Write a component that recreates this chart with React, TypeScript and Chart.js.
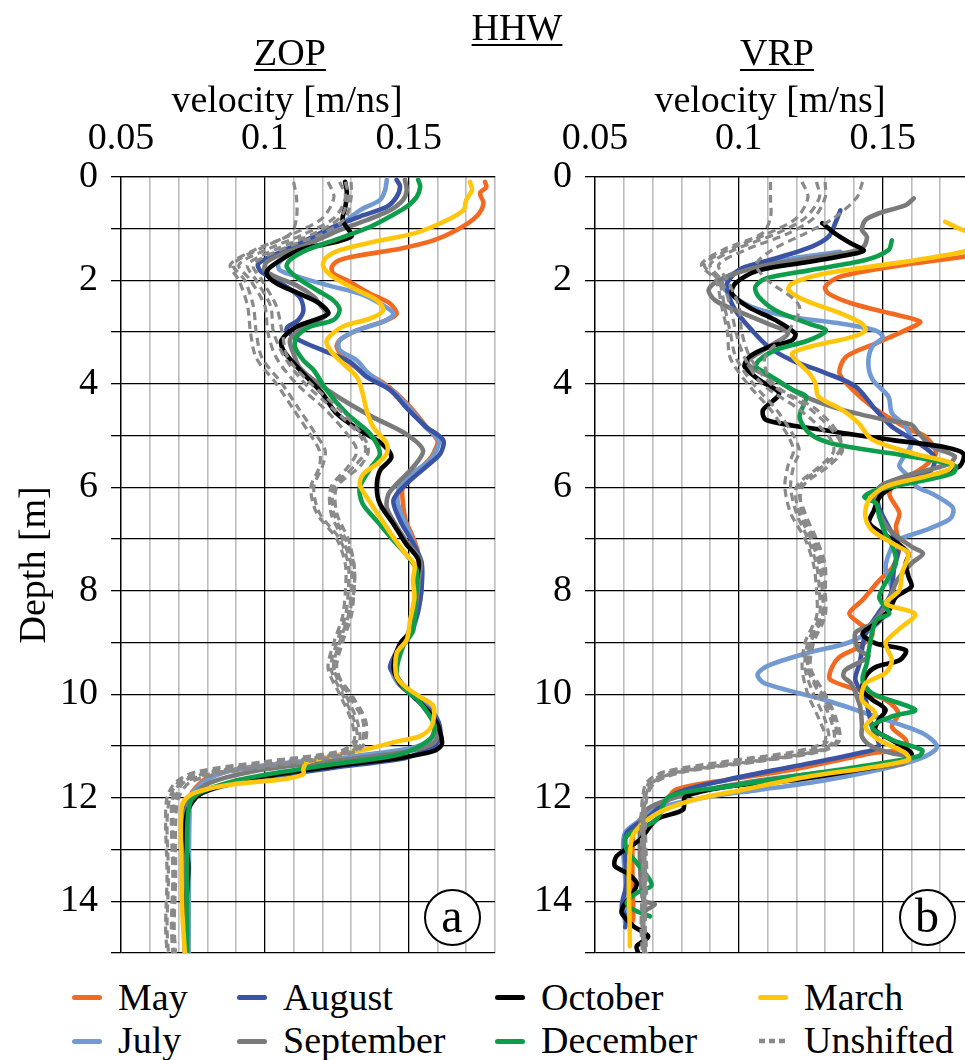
import React, { useEffect, useRef } from "react";
import { Chart, registerables } from "chart.js";

Chart.register(...registerables);

const FONT = "Liberation Serif";
Chart.defaults.font.family = FONT;
Chart.defaults.font.size = 38;
Chart.defaults.color = "#000000";

// ---- axes ----
const velocityMin = 0.05;
const velocityMax = 0.18;
const velocityStep = 0.01;
const velocityLabelled = [5, 10, 15]; // hundredths that carry a label
const depthMin = 0;
const depthMax = 15;

// ---- series names / colours ----
const seriesNames = ["May", "July", "August", "September", "October", "December", "March"];
const seriesColors = ["#F26A22", "#7199D2", "#3A53A4", "#7A7A7A", "#000000", "#0E9E4B", "#FFC60B"];
const unshiftedColor = "#8A8A8A";

type Pt = [number, number]; // [depth m, velocity m/ns]

// ================= ZOP (panel a) =================
const zopMay: Pt[] = [[0.1,0.1765],[0.2,0.177],[0.32,0.1748],[0.52,0.176],[0.77,0.1735],[1.03,0.1667],[1.23,0.1586],[1.39,0.147],[1.52,0.133],[1.61,0.126],[1.74,0.1233],[1.87,0.1238],[2.0,0.1285],[2.26,0.1366],[2.45,0.1435],[2.65,0.1458],[2.77,0.1424],[2.97,0.132],[3.16,0.126],[3.29,0.125],[3.48,0.1273],[3.74,0.133],[3.94,0.14],[4.19,0.1458],[4.52,0.1516],[4.84,0.1562],[5.1,0.16],[5.3,0.159],[5.45,0.1574],[5.74,0.152],[6.0,0.148],[6.3,0.148],[6.65,0.149],[6.9,0.151],[7.2,0.153],[7.41,0.1534],[7.8,0.1545],[8.18,0.154],[8.5,0.152],[8.83,0.15],[9.08,0.147],[9.47,0.1444],[9.79,0.1464],[10.05,0.152],[10.3,0.158],[10.6,0.159],[10.85,0.158],[11.0,0.155],[11.12,0.145],[11.25,0.125],[11.38,0.1],[11.5,0.086],[11.65,0.079],[11.97,0.074],[12.4,0.0735],[13.5,0.0735],[15,0.0733]];
const zopJuly: Pt[] = [[0.06,0.1424],[0.26,0.1418],[0.45,0.14],[0.65,0.133],[0.94,0.126],[1.16,0.118],[1.42,0.11],[1.68,0.1047],[1.81,0.1053],[1.94,0.112],[2.1,0.122],[2.26,0.133],[2.45,0.14],[2.65,0.1447],[2.8,0.1412],[2.97,0.132],[3.16,0.126],[3.35,0.126],[3.55,0.132],[3.8,0.136],[4.19,0.1455],[4.52,0.151],[4.84,0.1558],[5.1,0.1605],[5.3,0.1595],[5.5,0.157],[5.74,0.151],[6.0,0.1468],[6.3,0.1462],[6.65,0.1485],[6.9,0.1505],[7.2,0.1525],[7.45,0.1545],[7.8,0.1545],[8.2,0.1538],[8.5,0.1515],[8.85,0.1495],[9.1,0.1465],[9.47,0.1438],[9.8,0.1465],[10.05,0.1525],[10.35,0.1585],[10.65,0.16],[10.9,0.157],[11.05,0.15],[11.2,0.13],[11.35,0.104],[11.48,0.088],[11.65,0.08],[11.95,0.0745],[12.4,0.0738],[13.5,0.0736],[15,0.0735]];
const zopAugust: Pt[] = [[0.06,0.1458],[0.19,0.147],[0.39,0.1458],[0.58,0.1424],[0.77,0.133],[0.97,0.1238],[1.29,0.112],[1.52,0.103],[1.68,0.0977],[1.81,0.0983],[1.94,0.1018],[2.13,0.1076],[2.32,0.112],[2.58,0.1134],[2.77,0.1116],[2.9,0.108],[2.97,0.1076],[3.16,0.112],[3.35,0.12],[3.58,0.1296],[3.87,0.1354],[4.12,0.1435],[4.51,0.15],[4.83,0.156],[5.09,0.162],[5.35,0.161],[5.54,0.1574],[5.93,0.1493],[6.25,0.1447],[6.64,0.147],[7.09,0.1516],[7.47,0.1545],[8.18,0.154],[8.7,0.1516],[9.02,0.1476],[9.47,0.1435],[9.66,0.1458],[10.05,0.1516],[10.4,0.159],[10.7,0.161],[10.97,0.1595],[11.1,0.155],[11.23,0.149],[11.42,0.124],[11.61,0.1006],[11.77,0.086],[11.93,0.0775],[12.2,0.0725],[13.0,0.0722],[15,0.0722]];
const zopSeptember: Pt[] = [[0.06,0.1487],[0.26,0.1493],[0.45,0.148],[0.65,0.1435],[0.84,0.1354],[1.03,0.126],[1.29,0.1157],[1.48,0.1064],[1.65,0.1006],[1.81,0.1],[1.94,0.104],[2.1,0.111],[2.32,0.117],[2.5,0.1195],[2.65,0.1215],[2.77,0.119],[2.97,0.112],[3.16,0.1087],[3.42,0.11],[3.68,0.112],[3.93,0.117],[4.32,0.1273],[4.65,0.1377],[4.97,0.149],[5.29,0.155],[5.61,0.1516],[5.94,0.1458],[6.13,0.143],[6.39,0.1424],[6.65,0.1447],[7.03,0.149],[7.41,0.154],[7.8,0.1535],[8.3,0.1525],[8.8,0.1505],[9.05,0.147],[9.47,0.1445],[9.8,0.1468],[10.05,0.1522],[10.4,0.158],[10.7,0.1605],[10.95,0.1585],[11.1,0.15],[11.25,0.13],[11.45,0.1],[11.71,0.081],[12.03,0.074],[12.5,0.0722],[15,0.0722]];
const zopOctober: Pt[] = [[0.1,0.1279],[0.3,0.1285],[0.58,0.128],[0.84,0.127],[1.16,0.13],[1.42,0.112],[1.74,0.102],[1.87,0.1006],[2.06,0.104],[2.26,0.112],[2.45,0.119],[2.65,0.122],[2.9,0.111],[3.16,0.1058],[3.35,0.1064],[3.6,0.11],[3.87,0.1145],[4.19,0.12],[4.58,0.125],[4.9,0.133],[5.16,0.1407],[5.42,0.144],[5.68,0.14],[6.0,0.1389],[6.32,0.14],[6.71,0.1447],[7.09,0.149],[7.41,0.1534],[7.8,0.1528],[8.31,0.152],[8.76,0.151],[9.02,0.147],[9.47,0.1447],[9.79,0.147],[10.05,0.152],[10.48,0.159],[10.74,0.161],[10.97,0.1615],[11.1,0.1586],[11.23,0.147],[11.39,0.124],[11.58,0.1006],[11.74,0.0867],[11.93,0.0775],[12.22,0.0734],[12.67,0.0722],[13.32,0.0734],[13.96,0.0728],[15,0.0726]];
const zopDecember: Pt[] = [[0.06,0.1533],[0.19,0.154],[0.39,0.1528],[0.58,0.1493],[0.77,0.1435],[0.97,0.1366],[1.19,0.126],[1.42,0.1145],[1.61,0.1087],[1.74,0.1076],[1.94,0.111],[2.19,0.118],[2.39,0.1238],[2.58,0.126],[2.77,0.1238],[2.9,0.1157],[3.1,0.111],[3.29,0.1105],[3.55,0.1134],[3.74,0.117],[4.13,0.1215],[4.58,0.1285],[4.97,0.1366],[5.35,0.14],[5.61,0.137],[6.0,0.133],[6.32,0.134],[6.65,0.1389],[7.03,0.1447],[7.29,0.149],[7.6,0.1528],[8.12,0.1525],[8.76,0.1516],[9.08,0.148],[9.6,0.1458],[9.92,0.149],[10.1,0.153],[10.6,0.159],[10.87,0.1574],[11.16,0.147],[11.35,0.124],[11.55,0.1006],[11.68,0.089],[11.9,0.0775],[12.1,0.074],[12.67,0.073],[15,0.073]];
const zopMarch: Pt[] = [[0.1,0.1713],[0.26,0.172],[0.45,0.17],[0.65,0.169],[0.9,0.161],[1.1,0.1516],[1.26,0.1377],[1.42,0.126],[1.58,0.121],[1.74,0.1203],[1.94,0.1238],[2.19,0.132],[2.39,0.139],[2.58,0.1412],[2.74,0.1366],[2.9,0.127],[3.16,0.1215],[3.35,0.1227],[3.55,0.126],[3.87,0.132],[4.19,0.134],[4.52,0.1354],[4.84,0.1377],[5.16,0.1424],[5.35,0.1424],[5.55,0.139],[5.74,0.1343],[5.94,0.133],[6.19,0.1354],[6.58,0.14],[6.97,0.1447],[7.29,0.149],[7.5,0.152],[7.8,0.1515],[8.12,0.152],[8.57,0.1505],[8.95,0.1493],[9.21,0.1458],[9.66,0.1458],[9.86,0.149],[10.05,0.154],[10.23,0.1586],[10.61,0.158],[10.81,0.154],[10.9,0.147],[11.06,0.1354],[11.19,0.1238],[11.32,0.1145],[11.45,0.1134],[11.55,0.1134],[11.64,0.1064],[11.74,0.089],[11.87,0.0775],[12.0,0.0728],[12.22,0.071],[13.32,0.071],[14.28,0.0714],[15,0.0722]];

// unshifted profiles share one depth list
const unshiftedDepths = [0.1,0.4,0.8,1.1,1.4,1.7,2.0,2.5,3.0,3.5,4.0,4.5,5.0,5.3,5.6,6.0,6.5,7.0,7.5,8.0,8.5,9.0,9.5,10.0,10.5,10.9,11.1,11.3,11.5,11.7,12.0,12.5,13.5,14.5,15.0];
const zopUnshifted1 = [0.110,0.111,0.111,0.109,0.097,0.088,0.091,0.094,0.095,0.097,0.104,0.110,0.116,0.119,0.119,0.116,0.118,0.125,0.128,0.128,0.127,0.124,0.122,0.126,0.130,0.131,0.126,0.100,0.076,0.069,0.066,0.0655,0.066,0.0655,0.066];
const zopUnshifted2 = [0.122,0.124,0.120,0.110,0.098,0.089,0.093,0.096,0.097,0.099,0.106,0.112,0.118,0.121,0.120,0.117,0.119,0.126,0.129,0.129,0.128,0.125,0.123,0.127,0.131,0.132,0.128,0.105,0.080,0.070,0.067,0.066,0.0665,0.066,0.0665];
const zopUnshifted3 = [0.126,0.128,0.124,0.114,0.101,0.091,0.095,0.100,0.101,0.104,0.111,0.121,0.129,0.132,0.129,0.123,0.123,0.127,0.130,0.130,0.129,0.126,0.124,0.128,0.132,0.133,0.130,0.108,0.082,0.071,0.068,0.0675,0.068,0.0675,0.068];
const zopUnshifted4 = [0.128,0.129,0.126,0.117,0.104,0.094,0.097,0.102,0.103,0.107,0.114,0.124,0.133,0.135,0.131,0.124,0.124,0.128,0.131,0.131,0.130,0.127,0.125,0.129,0.134,0.134,0.131,0.112,0.085,0.072,0.069,0.068,0.0685,0.068,0.0685];
const zopUnshifted5 = [0.130,0.130,0.128,0.120,0.106,0.096,0.099,0.104,0.106,0.108,0.116,0.126,0.134,0.136,0.133,0.125,0.125,0.129,0.131,0.131,0.129,0.126,0.124,0.130,0.135,0.135,0.132,0.115,0.088,0.074,0.070,0.069,0.069,0.0685,0.069];

// ================= VRP (panel b) =================
const vrpMay: Pt[] = [[1.45,0.19],[1.56,0.1764],[1.74,0.1533],[1.94,0.1347],[2.13,0.13],[2.26,0.1312],[2.45,0.1393],[2.65,0.1533],[2.8,0.163],[2.93,0.1593],[3.22,0.1477],[3.48,0.1373],[3.8,0.135],[4.12,0.1396],[4.45,0.1465],[4.7,0.1535],[4.9,0.16],[5.03,0.165],[5.35,0.1685],[5.67,0.1627],[5.86,0.156],[6.12,0.1523],[6.5,0.1558],[6.76,0.1546],[7.15,0.1558],[7.54,0.1535],[7.8,0.1488],[8.18,0.143],[8.44,0.1384],[8.63,0.1419],[8.83,0.1465],[9.08,0.1419],[9.28,0.135],[9.53,0.132],[9.72,0.1318],[9.92,0.1416],[10.11,0.151],[10.37,0.1555],[10.63,0.1532],[10.88,0.158],[11.05,0.158],[11.14,0.1463],[11.46,0.1185],[11.66,0.0953],[11.85,0.0779],[12.16,0.0737],[12.35,0.0668],[12.68,0.0633],[14.29,0.0633],[14.4,0.063]];
const vrpJuly: Pt[] = [[1.45,0.1353],[1.58,0.1185],[1.74,0.1046],[2.0,0.0941],[2.19,0.0953],[2.52,0.1046],[2.71,0.1185],[2.84,0.1358],[2.97,0.1474],[3.1,0.15],[3.29,0.1463],[3.61,0.145],[3.92,0.1465],[4.25,0.152],[4.57,0.1532],[4.83,0.158],[5.15,0.16],[5.47,0.1567],[5.6,0.1558],[5.79,0.159],[6.0,0.162],[6.12,0.167],[6.37,0.1741],[6.5,0.1745],[6.63,0.173],[6.83,0.1648],[7.02,0.155],[7.15,0.1532],[7.54,0.151],[7.99,0.1532],[8.4,0.152],[8.95,0.1405],[9.2,0.124],[9.45,0.11],[9.62,0.1065],[9.79,0.109],[10.11,0.13],[10.43,0.1475],[10.75,0.1637],[11.01,0.1689],[11.2,0.1648],[11.4,0.1532],[11.66,0.13],[11.85,0.1069],[11.98,0.0895],[12.2,0.072],[12.48,0.0645],[12.68,0.0604],[13.0,0.0598],[13.97,0.061],[14.29,0.0604],[14.4,0.0604]];
const vrpAugust: Pt[] = [[0.65,0.1353],[0.9,0.1335],[1.16,0.1312],[1.35,0.1254],[1.58,0.1127],[1.77,0.101],[2.0,0.0965],[2.19,0.0959],[2.58,0.0988],[2.97,0.1046],[3.29,0.1104],[3.55,0.1185],[3.79,0.13],[4.05,0.1405],[4.5,0.1475],[4.83,0.1532],[5.15,0.1625],[5.41,0.168],[5.66,0.167],[5.79,0.162],[5.92,0.1532],[6.1,0.1486],[6.37,0.1486],[6.76,0.152],[7.15,0.1555],[7.54,0.154],[7.99,0.1532],[8.12,0.1524],[8.5,0.1477],[8.83,0.144],[9.4,0.142],[9.72,0.1405],[10.1,0.144],[10.63,0.1463],[11.01,0.1486],[11.14,0.1416],[11.4,0.1185],[11.66,0.0953],[11.92,0.0779],[12.35,0.069],[12.68,0.061],[13.13,0.0605],[13.65,0.061],[14.1,0.0593],[14.35,0.061],[14.5,0.0605]];
const vrpSeptember: Pt[] = [[0.42,0.1608],[0.55,0.158],[0.71,0.1486],[0.84,0.144],[1.03,0.1428],[1.16,0.1445],[1.35,0.1434],[1.45,0.139],[1.58,0.124],[1.74,0.1069],[2.0,0.093],[2.19,0.0895],[2.39,0.0918],[2.58,0.0988],[2.84,0.11],[3.03,0.117],[3.3,0.11],[3.6,0.103],[3.92,0.1127],[4.25,0.123],[4.5,0.1358],[4.7,0.151],[4.79,0.16],[4.92,0.162],[5.21,0.167],[5.4,0.175],[5.55,0.173],[5.75,0.16],[5.95,0.15],[6.12,0.1474],[6.4,0.148],[6.8,0.152],[7.15,0.16],[7.28,0.164],[7.47,0.16],[7.8,0.155],[8.2,0.152],[8.63,0.1463],[8.82,0.1405],[9.14,0.1416],[9.27,0.145],[9.53,0.137],[9.66,0.1364],[9.79,0.139],[10.2,0.142],[10.6,0.1428],[10.82,0.1428],[11.01,0.1463],[11.14,0.1532],[11.2,0.158],[11.35,0.157],[11.58,0.1188],[11.77,0.0957],[12.03,0.076],[12.29,0.0668],[12.87,0.0656],[13.97,0.0668],[14.06,0.0708],[14.23,0.0668],[15,0.0673]];
const vrpOctober: Pt[] = [[0.9,0.129],[1.1,0.1335],[1.29,0.139],[1.42,0.1434],[1.48,0.141],[1.65,0.124],[1.81,0.107],[2.06,0.0988],[2.26,0.0976],[2.52,0.1034],[2.77,0.1127],[3.03,0.1196],[3.16,0.1185],[3.29,0.1104],[3.48,0.1037],[3.67,0.102],[3.93,0.1072],[4.19,0.114],[4.51,0.1084],[4.7,0.1095],[4.9,0.13],[5.09,0.1535],[5.22,0.171],[5.35,0.178],[5.6,0.1766],[5.8,0.165],[6.0,0.1535],[6.19,0.149],[6.44,0.147],[6.7,0.1454],[7.02,0.1535],[7.28,0.159],[7.47,0.158],[7.73,0.159],[7.92,0.16],[8.12,0.1546],[8.37,0.1523],[8.63,0.1477],[8.83,0.143],[9.02,0.1477],[9.15,0.158],[9.34,0.156],[9.47,0.1477],[9.66,0.144],[9.92,0.143],[10.1,0.1463],[10.3,0.151],[10.5,0.1486],[10.69,0.1475],[10.88,0.153],[11.14,0.16],[11.27,0.158],[11.46,0.142],[11.66,0.119],[11.79,0.0953],[11.98,0.0814],[12.23,0.0806],[12.42,0.0714],[12.81,0.0656],[13.13,0.0575],[13.32,0.0569],[13.45,0.061],[13.65,0.0645],[13.85,0.063],[14.1,0.0598],[14.23,0.0593],[14.48,0.0633],[14.68,0.0685],[14.87,0.0645],[15,0.065]];
const vrpDecember: Pt[] = [[1.23,0.1532],[1.42,0.152],[1.61,0.144],[1.81,0.1243],[1.97,0.1092],[2.13,0.1057],[2.32,0.1069],[2.58,0.1127],[2.84,0.1243],[2.97,0.1303],[3.16,0.1243],[3.35,0.1127],[3.55,0.1069],[3.67,0.106],[3.8,0.1095],[4.12,0.1188],[4.25,0.1234],[4.64,0.1211],[4.96,0.1246],[5.16,0.1327],[5.35,0.1535],[5.48,0.1673],[5.6,0.1754],[5.73,0.1743],[5.86,0.165],[6.06,0.1477],[6.19,0.1436],[6.31,0.1477],[6.57,0.1488],[6.9,0.151],[7.15,0.1535],[7.47,0.1546],[8.12,0.1488],[8.44,0.1523],[8.57,0.1477],[9.08,0.1454],[9.4,0.1445],[9.73,0.143],[9.98,0.1463],[10.3,0.1613],[10.43,0.1532],[10.63,0.1463],[10.88,0.1532],[11.08,0.1637],[11.2,0.1625],[11.4,0.1416],[11.59,0.1185],[11.79,0.0953],[11.98,0.0756],[12.42,0.0714],[12.74,0.061],[13.0,0.061],[13.26,0.0645],[13.68,0.0697],[13.84,0.0645],[14.03,0.061],[14.16,0.0633],[14.29,0.0691]];
const vrpMarch: Pt[] = [[0.87,0.1717],[1.0,0.1764],[1.12,0.182],[1.3,0.186],[1.45,0.178],[1.58,0.165],[1.68,0.1533],[1.87,0.13],[2.06,0.1185],[2.19,0.1173],[2.39,0.1231],[2.65,0.1358],[2.84,0.1428],[2.97,0.144],[3.1,0.1393],[3.29,0.1243],[3.42,0.1185],[3.61,0.121],[3.8,0.1245],[3.99,0.1266],[4.25,0.1277],[4.5,0.1358],[4.76,0.1416],[5.08,0.1463],[5.34,0.16],[5.54,0.1741],[5.66,0.173],[5.79,0.165],[5.99,0.151],[6.25,0.1451],[6.57,0.144],[6.83,0.1463],[7.15,0.1555],[7.28,0.159],[7.66,0.1567],[7.99,0.1558],[8.25,0.1512],[8.45,0.1613],[8.75,0.1555],[9.01,0.151],[9.34,0.1532],[9.59,0.151],[9.79,0.144],[10.11,0.1428],[10.37,0.1475],[10.63,0.144],[10.88,0.1486],[11.14,0.158],[11.27,0.159],[11.4,0.1475],[11.59,0.1243],[11.85,0.101],[12.05,0.0837],[12.35,0.0702],[12.81,0.0627],[14.87,0.0621]];

const vrpUnshifted1 = [0.111,0.111,0.111,0.108,0.095,0.087,0.092,0.094,0.096,0.097,0.103,0.111,0.117,0.119,0.117,0.116,0.118,0.123,0.126,0.127,0.127,0.123,0.122,0.124,0.128,0.130,0.120,0.095,0.074,0.068,0.0665,0.066,0.0665,0.066,0.0665];
const vrpUnshifted2 = [0.122,0.124,0.120,0.110,0.097,0.088,0.093,0.095,0.097,0.099,0.105,0.113,0.119,0.121,0.119,0.118,0.120,0.124,0.127,0.128,0.128,0.124,0.123,0.126,0.130,0.131,0.124,0.100,0.077,0.069,0.067,0.0665,0.067,0.0665,0.067];
const vrpUnshifted3 = [0.127,0.128,0.123,0.113,0.099,0.090,0.094,0.097,0.099,0.102,0.108,0.121,0.131,0.133,0.128,0.120,0.121,0.125,0.128,0.129,0.129,0.125,0.124,0.128,0.132,0.133,0.127,0.104,0.079,0.070,0.0675,0.067,0.0675,0.067,0.0675];
const vrpUnshifted4 = [0.130,0.130,0.126,0.117,0.103,0.093,0.096,0.100,0.101,0.104,0.111,0.125,0.134,0.136,0.131,0.122,0.122,0.126,0.129,0.130,0.130,0.126,0.125,0.130,0.134,0.135,0.129,0.107,0.081,0.071,0.068,0.0675,0.068,0.0675,0.068];
const vrpUnshifted5 = [0.143,0.141,0.133,0.123,0.112,0.106,0.110,0.121,0.117,0.109,0.112,0.127,0.135,0.135,0.129,0.121,0.123,0.127,0.130,0.130,0.129,0.125,0.124,0.129,0.133,0.134,0.128,0.106,0.080,0.070,0.068,0.067,0.0675,0.067,0.0675];

// ---------------------------------------------------------------
function toXY(pts: Pt[]) {
  return pts.map(([d, v]) => ({ x: v, y: d }));
}
function zipDepth(vels: number[]) {
  return unshiftedDepths.map((d, i) => ({ x: vels[i], y: d }));
}

function buildDatasets(colored: Pt[][], unshifted: number[][]) {
  const sets: any[] = [];
  // first dataset is drawn on top in Chart.js
  unshifted.forEach((u) => {
    sets.push({
      data: zipDepth(u),
      borderColor: unshiftedColor,
      borderWidth: 3.2,
      borderDash: [8, 5],
      borderCapStyle: "butt",
      pointRadius: 0,
      tension: 0.3,
      showLine: true,
    });
  });
  for (let i = colored.length - 1; i >= 0; i--) {
    sets.push({
      label: seriesNames[i],
      data: toXY(colored[i]),
      borderColor: seriesColors[i],
      borderWidth: 4.6,
      borderCapStyle: "round",
      borderJoinStyle: "round",
      pointRadius: 0,
      tension: 0.3,
      showLine: true,
    });
  }
  return sets;
}

function hundredths(c: any) {
  return c && c.tick ? Math.round(c.tick.value * 100) : 5;
}

const axisFont = { family: FONT, size: 38, style: "normal" as const, weight: "normal" as const, lineHeight: 1.2 };

function makeConfig(datasets: any[], yAxisWidth: number, rightPad: number, bottomPad: number, showDepth: boolean): any {
  return {
    type: "scatter",
    data: { datasets },
    options: {
      animation: false,
      responsive: false,
      maintainAspectRatio: false,
      layout: { padding: { left: 0, right: rightPad, top: 0, bottom: bottomPad } },
      plugins: { legend: { display: false }, tooltip: { enabled: false }, title: { display: false } },
      scales: {
        x: {
          type: "linear",
          position: "top",
          min: velocityMin,
          max: velocityMax,
          afterFit: (s: any) => {
            s.height = 176.7;
            s.paddingLeft = 0;
            s.paddingRight = 0;
          },
          grid: {
            drawTicks: false,
            color: (c: any) => (hundredths(c) % 5 === 0 ? "#000000" : "#BDBDBD"),
            lineWidth: (c: any) => (hundredths(c) % 5 === 0 ? 1.3 : 1.6),
          },
          border: { display: true, color: "#000000", width: 1.3 },
          ticks: {
            stepSize: velocityStep,
            autoSkip: false,
            maxRotation: 0,
            minRotation: 0,
            padding: 15,
            color: "#000000",
            font: axisFont,
            callback: (v: number) => {
              const k = Math.round(v * 100);
              return velocityLabelled.includes(k) ? String(k / 100) : "";
            },
          },
        },
        y: {
          type: "linear",
          position: "left",
          reverse: true,
          min: depthMin,
          max: depthMax,
          afterFit: (s: any) => {
            s.width = yAxisWidth;
            s.paddingTop = 0;
            s.paddingBottom = 0;
          },
          grid: { color: "#000000", lineWidth: 1.3, drawTicks: true, tickLength: 10 },
          border: { display: true, color: "#000000", width: 1.3 },
          ticks: {
            stepSize: 1,
            autoSkip: false,
            padding: 13,
            color: "#000000",
            font: axisFont,
            callback: (v: number) => (Math.round(v) % 2 === 0 ? String(Math.round(v)) : ""),
          },
          title: {
            display: showDepth,
            text: "Depth [m]",
            color: "#000000",
            font: axisFont,
            padding: { top: 12, bottom: 0 },
          },
        },
      },
    },
  };
}

const textStyle: React.CSSProperties = {
  position: "absolute",
  fontFamily: '"Liberation Serif", "Times New Roman", serif',
  fontSize: 38,
  lineHeight: "38px",
  whiteSpace: "nowrap",
  color: "#000",
};

function Label(props: { x: number; baseline: number; text: string; underline?: boolean; center?: boolean }) {
  return (
    <div
      style={{
        ...textStyle,
        left: props.x,
        top: props.baseline - 32,
        transform: props.center ? "translateX(-50%)" : undefined,
        textDecoration: props.underline ? "underline" : undefined,
        textDecorationThickness: props.underline ? "2px" : undefined,
        textUnderlineOffset: props.underline ? "4px" : undefined,
      }}
    >
      {props.text}
    </div>
  );
}

function PanelTag(props: { cx: number; cy: number; text: string }) {
  const d = 57;
  return (
    <div
      style={{
        position: "absolute",
        left: props.cx - d / 2,
        top: props.cy - d / 2,
        width: d,
        height: d,
        boxSizing: "border-box",
        border: "2px solid #000",
        borderRadius: "50%",
        background: "#fff",
        fontFamily: '"Liberation Serif", serif',
        fontSize: 48,
        lineHeight: `${d - 8}px`,
        textAlign: "center",
      }}
    >
      {props.text}
    </div>
  );
}

// legend layout: column-major, two rows
const legendColumnsX = [72, 237, 495, 758];
const legendRowsY = [997, 1041];
const legendRowsBaseline = [1010, 1053];
const legendNames = ["May", "July", "August", "September", "October", "December", "March", "Unshifted"];

function Legend() {
  return (
    <>
      {legendNames.map((name, i) => {
        const col = Math.floor(i / 2);
        const row = i % 2;
        const x = legendColumnsX[col];
        const yc = legendRowsY[row];
        const isUnshifted = name === "Unshifted";
        const color = isUnshifted ? unshiftedColor : seriesColors[seriesNames.indexOf(name)];
        return (
          <React.Fragment key={name}>
            {isUnshifted ? (
              <svg style={{ position: "absolute", left: x, top: yc - 4 }} width={30} height={8}>
                <line x1={1} y1={4} x2={29} y2={4} stroke={color} strokeWidth={4.5} strokeDasharray="6 4" />
              </svg>
            ) : (
              <div
                style={{
                  position: "absolute",
                  left: x,
                  top: yc - 2.5,
                  width: 30,
                  height: 5,
                  borderRadius: 3,
                  background: color,
                }}
              />
            )}
            <Label x={x + 46} baseline={legendRowsBaseline[row]} text={name} />
          </React.Fragment>
        );
      })}
    </>
  );
}

export default function App() {
  const refA = useRef<HTMLCanvasElement>(null);
  const refB = useRef<HTMLCanvasElement>(null);

  useEffect(() => {
    const zopSets = buildDatasets(
      [zopMay, zopJuly, zopAugust, zopSeptember, zopOctober, zopDecember, zopMarch],
      [zopUnshifted1, zopUnshifted2, zopUnshifted3, zopUnshifted4, zopUnshifted5]
    );
    const vrpSets = buildDatasets(
      [vrpMay, vrpJuly, vrpAugust, vrpSeptember, vrpOctober, vrpDecember, vrpMarch],
      [vrpUnshifted1, vrpUnshifted2, vrpUnshifted3, vrpUnshifted4, vrpUnshifted5]
    );
    const a = new Chart(refA.current as HTMLCanvasElement, makeConfig(zopSets, 121, 25, 12, true));
    const b = new Chart(refB.current as HTMLCanvasElement, makeConfig(vrpSets, 115, 11, 12, false));
    return () => {
      a.destroy();
      b.destroy();
    };
  }, []);

  return (
    <div
      style={{
        position: "absolute",
        left: 0,
        top: 0,
        width: 965,
        height: 1060,
        overflow: "hidden",
        background: "#fff",
      }}
    >
      <canvas ref={refA} width={520} height={965} style={{ position: "absolute", left: 0, top: 0 }} />
      <canvas ref={refB} width={500} height={965} style={{ position: "absolute", left: 480, top: 0 }} />
      <Label x={517} baseline={40} text="HHW" underline center />
      <Label x={290} baseline={65} text="ZOP" underline center />
      <Label x={777} baseline={65} text="VRP" underline center />
      <Label x={287} baseline={112} text="velocity [m/ns]" center />
      <Label x={770} baseline={112} text="velocity [m/ns]" center />
      <PanelTag cx={452} cy={917} text="a" />
      <PanelTag cx={927} cy={917} text="b" />
      <Legend />
    </div>
  );
}
